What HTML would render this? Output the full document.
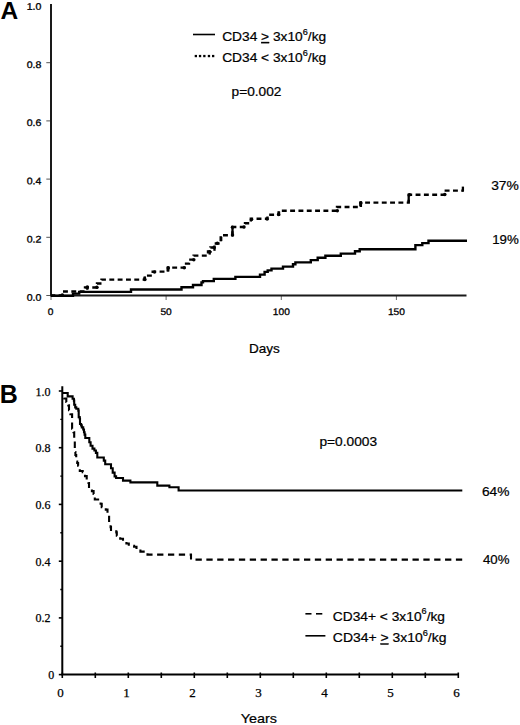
<!DOCTYPE html>
<html><head><meta charset="utf-8"><title>Figure</title>
<style>
html,body{margin:0;padding:0;background:#fff;width:520px;height:725px;overflow:hidden;font-family:"Liberation Sans",sans-serif;}
svg{display:block;}
</style></head><body>
<svg width="520" height="725" viewBox="0 0 520 725">
<rect width="520" height="725" fill="#fff"/>
<text x="0.5" y="19" font-family="Liberation Sans" font-weight="bold" font-size="24.5">A</text>
<text transform="translate(41.3,9.7) rotate(0.04) scale(1.1,1)" x="0" y="0" text-anchor="end" font-family="Liberation Sans" font-size="9.6" stroke="#000" stroke-width="0.3">1.0</text>
<line x1="46.3" x2="50" y1="62.7" y2="62.7" stroke="#555" stroke-width="1"/>
<text transform="translate(41.3,67.9) rotate(0.04) scale(1.1,1)" x="0" y="0" text-anchor="end" font-family="Liberation Sans" font-size="9.6" stroke="#000" stroke-width="0.3">0.8</text>
<line x1="46.3" x2="50" y1="120.9" y2="120.9" stroke="#555" stroke-width="1"/>
<text transform="translate(41.3,126.1) rotate(0.04) scale(1.1,1)" x="0" y="0" text-anchor="end" font-family="Liberation Sans" font-size="9.6" stroke="#000" stroke-width="0.3">0.6</text>
<line x1="46.3" x2="50" y1="179.1" y2="179.1" stroke="#555" stroke-width="1"/>
<text transform="translate(41.3,184.3) rotate(0.04) scale(1.1,1)" x="0" y="0" text-anchor="end" font-family="Liberation Sans" font-size="9.6" stroke="#000" stroke-width="0.3">0.4</text>
<line x1="46.3" x2="50" y1="237.3" y2="237.3" stroke="#555" stroke-width="1"/>
<text transform="translate(41.3,242.5) rotate(0.04) scale(1.1,1)" x="0" y="0" text-anchor="end" font-family="Liberation Sans" font-size="9.6" stroke="#000" stroke-width="0.3">0.2</text>
<line x1="46.3" x2="50" y1="295.5" y2="295.5" stroke="#555" stroke-width="1"/>
<text transform="translate(41.3,300.7) rotate(0.04) scale(1.1,1)" x="0" y="0" text-anchor="end" font-family="Liberation Sans" font-size="9.6" stroke="#000" stroke-width="0.3">0.0</text>
<line x1="51.0" x2="51.0" y1="296" y2="300" stroke="#666" stroke-width="1"/>
<text transform="translate(50.6,314.9) rotate(0.04) scale(1.06,1)" x="0" y="0" text-anchor="middle" font-family="Liberation Sans" font-size="9.6" stroke="#000" stroke-width="0.3">0</text>
<line x1="166.1" x2="166.1" y1="296" y2="300" stroke="#666" stroke-width="1"/>
<text transform="translate(166.1,314.9) rotate(0.04) scale(1.06,1)" x="0" y="0" text-anchor="middle" font-family="Liberation Sans" font-size="9.6" stroke="#000" stroke-width="0.3">50</text>
<line x1="281.3" x2="281.3" y1="296" y2="300" stroke="#666" stroke-width="1"/>
<text transform="translate(281.3,314.9) rotate(0.04) scale(1.06,1)" x="0" y="0" text-anchor="middle" font-family="Liberation Sans" font-size="9.6" stroke="#000" stroke-width="0.3">100</text>
<line x1="396.4" x2="396.4" y1="296" y2="300" stroke="#666" stroke-width="1"/>
<text transform="translate(396.4,314.9) rotate(0.04) scale(1.06,1)" x="0" y="0" text-anchor="middle" font-family="Liberation Sans" font-size="9.6" stroke="#000" stroke-width="0.3">150</text>
<path d="M51,4 V295.5 H466.5" fill="none" stroke="#1a1a1a" stroke-width="2"/>
<path transform="translate(0,0.4)" d="M51,295.5 H73 V293.2 H79.2 V291.5 H131 V289.1 H181.5 V286.8 H193 V284.6 H201.5 V282 H203 V280.7 H213.8 V278.5 H235.4 V276.5 H260 V274.2 H264.6 V271.5 H267.7 V270 H271.5 V268.2 H283 V266.2 H293 V263.8 H295.4 V262 H310.8 V259.7 H317.7 V257.4 H325.4 V255.3 H340.8 V253.2 H355 V250.8 H359.7 V248.8 H415.4 V244.7 H422.3 V242.7 H428.5 V240.4 H467" fill="none" stroke="#000" stroke-width="2.4"/>
<path d="M51,295.5 H62 V291.5 H85 V287.5 H97 V283.5 H101.5 V279.6 H144.6 V275.6 H152.7 V271.6 H167.7 V267.6 H184.4 V263.6 H189 V259.6 H193.6 V255.6 H208 V251.5 H210.4 V247.5 H214.4 V243.5 H220.7 V235.2 H232.4 V227 H245 V223.2 H250.8 V218.8 H267.5 V214.8 H279 V210.8 H337 V207 H360.4 V202.6 H408.7 V194.8 H445.8 V190.6 H463.5" fill="none" stroke="#000" stroke-width="2.4" stroke-dasharray="4.9 3.42" stroke-dashoffset="0.64"/>
<circle cx="62.3" cy="295.1" r="1.75" fill="#000"/>
<circle cx="87.3" cy="287.0" r="1.75" fill="#000"/>
<circle cx="96.9" cy="287.2" r="1.75" fill="#000"/>
<circle cx="144.9" cy="279.6" r="1.75" fill="#000"/>
<circle cx="154.5" cy="272.0" r="1.75" fill="#000"/>
<circle cx="168.3" cy="268.0" r="1.75" fill="#000"/>
<circle cx="184.2" cy="267.8" r="1.75" fill="#000"/>
<circle cx="193.8" cy="259.8" r="1.75" fill="#000"/>
<circle cx="209.7" cy="251.7" r="1.75" fill="#000"/>
<circle cx="214.0" cy="247.4" r="1.75" fill="#000"/>
<circle cx="217.3" cy="243.2" r="1.75" fill="#000"/>
<circle cx="232.5" cy="235.0" r="1.75" fill="#000"/>
<circle cx="232.5" cy="227.2" r="1.75" fill="#000"/>
<circle cx="244.0" cy="227.0" r="1.75" fill="#000"/>
<circle cx="251.5" cy="219.4" r="1.75" fill="#000"/>
<circle cx="267.1" cy="218.9" r="1.75" fill="#000"/>
<circle cx="278.6" cy="214.6" r="1.75" fill="#000"/>
<circle cx="337.3" cy="210.8" r="1.75" fill="#000"/>
<circle cx="360.9" cy="203.0" r="1.75" fill="#000"/>
<circle cx="409.5" cy="194.8" r="1.75" fill="#000"/>
<circle cx="444.8" cy="194.6" r="1.75" fill="#000"/>
<line x1="87.3" x2="87.3" y1="286.9" y2="289.8" stroke="#000" stroke-width="2.3"/>
<line x1="144.9" x2="144.9" y1="276.5" y2="279.5" stroke="#000" stroke-width="2.3"/>
<line x1="168.3" x2="168.3" y1="266.3" y2="271.5" stroke="#000" stroke-width="2.3"/>
<line x1="209.7" x2="209.7" y1="250.8" y2="254.6" stroke="#000" stroke-width="2.3"/>
<line x1="214.5" x2="214.5" y1="245.5" y2="250.8" stroke="#000" stroke-width="2.3"/>
<line x1="221.2" x2="221.2" y1="236.8" y2="241.1" stroke="#000" stroke-width="2.3"/>
<line x1="232.5" x2="232.5" y1="227.0" y2="235.0" stroke="#000" stroke-width="2.3"/>
<line x1="278.6" x2="278.6" y1="211.3" y2="214.8" stroke="#000" stroke-width="2.3"/>
<line x1="360.9" x2="360.9" y1="201.3" y2="207.0" stroke="#000" stroke-width="2.3"/>
<line x1="408.7" x2="408.7" y1="194.5" y2="202.6" stroke="#000" stroke-width="2.3"/>
<line x1="462.9" x2="462.9" y1="186.6" y2="191.6" stroke="#000" stroke-width="2.3"/>
<line x1="193" x2="215" y1="34.5" y2="34.5" stroke="#000" stroke-width="1.6"/>
<rect x="194.7" y="54.9" width="2.3" height="2.3" fill="#000"/>
<rect x="198.9" y="54.9" width="2.3" height="2.3" fill="#000"/>
<rect x="203.2" y="54.9" width="2.3" height="2.3" fill="#000"/>
<rect x="207.8" y="54.9" width="2.3" height="2.3" fill="#000"/>
<rect x="212.0" y="54.9" width="2.3" height="2.3" fill="#000"/>
<text x="-0.2" y="403.1" font-family="Liberation Sans" font-weight="bold" font-size="25">B</text>
<line x1="58.8" x2="62" y1="391.0" y2="391.0" stroke="#000" stroke-width="1.6"/>
<text x="50.6" y="395.5" text-anchor="end" font-family="Liberation Serif" font-size="12" stroke="#000" stroke-width="0.25">1.0</text>
<line x1="58.8" x2="62" y1="447.7" y2="447.7" stroke="#000" stroke-width="1.6"/>
<text x="50.6" y="452.2" text-anchor="end" font-family="Liberation Serif" font-size="12" stroke="#000" stroke-width="0.25">0.8</text>
<line x1="58.8" x2="62" y1="504.4" y2="504.4" stroke="#000" stroke-width="1.6"/>
<text x="50.6" y="508.9" text-anchor="end" font-family="Liberation Serif" font-size="12" stroke="#000" stroke-width="0.25">0.6</text>
<line x1="58.8" x2="62" y1="561.2" y2="561.2" stroke="#000" stroke-width="1.6"/>
<text x="50.6" y="565.7" text-anchor="end" font-family="Liberation Serif" font-size="12" stroke="#000" stroke-width="0.25">0.4</text>
<line x1="58.8" x2="62" y1="617.9" y2="617.9" stroke="#000" stroke-width="1.6"/>
<text x="50.6" y="622.4" text-anchor="end" font-family="Liberation Serif" font-size="12" stroke="#000" stroke-width="0.25">0.2</text>
<line x1="58.8" x2="62" y1="674.6" y2="674.6" stroke="#000" stroke-width="1.6"/>
<text x="54.2" y="679.1" text-anchor="end" font-family="Liberation Serif" font-size="12" stroke="#000" stroke-width="0.25">0</text>
<line x1="60.3" x2="62" y1="419.4" y2="419.4" stroke="#000" stroke-width="1.4"/>
<line x1="60.3" x2="62" y1="476.1" y2="476.1" stroke="#000" stroke-width="1.4"/>
<line x1="60.3" x2="62" y1="532.8" y2="532.8" stroke="#000" stroke-width="1.4"/>
<line x1="60.3" x2="62" y1="589.5" y2="589.5" stroke="#000" stroke-width="1.4"/>
<line x1="60.3" x2="62" y1="646.2" y2="646.2" stroke="#000" stroke-width="1.4"/>
<line x1="62.3" x2="62.3" y1="672.5" y2="678" stroke="#000" stroke-width="1.6"/>
<line x1="95.3" x2="95.3" y1="672.5" y2="678" stroke="#000" stroke-width="1.6"/>
<line x1="128.3" x2="128.3" y1="672.5" y2="678" stroke="#000" stroke-width="1.6"/>
<line x1="161.3" x2="161.3" y1="672.5" y2="678" stroke="#000" stroke-width="1.6"/>
<line x1="194.3" x2="194.3" y1="672.5" y2="678" stroke="#000" stroke-width="1.6"/>
<line x1="227.3" x2="227.3" y1="672.5" y2="678" stroke="#000" stroke-width="1.6"/>
<line x1="260.3" x2="260.3" y1="672.5" y2="678" stroke="#000" stroke-width="1.6"/>
<line x1="293.3" x2="293.3" y1="672.5" y2="678" stroke="#000" stroke-width="1.6"/>
<line x1="326.3" x2="326.3" y1="672.5" y2="678" stroke="#000" stroke-width="1.6"/>
<line x1="359.3" x2="359.3" y1="672.5" y2="678" stroke="#000" stroke-width="1.6"/>
<line x1="392.3" x2="392.3" y1="672.5" y2="678" stroke="#000" stroke-width="1.6"/>
<line x1="425.3" x2="425.3" y1="672.5" y2="678" stroke="#000" stroke-width="1.6"/>
<line x1="458.3" x2="458.3" y1="672.5" y2="678" stroke="#000" stroke-width="1.6"/>
<text x="60.4" y="697.3" text-anchor="middle" font-family="Liberation Serif" font-size="13" stroke="#000" stroke-width="0.25">0</text>
<text x="126.4" y="697.3" text-anchor="middle" font-family="Liberation Serif" font-size="13" stroke="#000" stroke-width="0.25">1</text>
<text x="192.4" y="697.3" text-anchor="middle" font-family="Liberation Serif" font-size="13" stroke="#000" stroke-width="0.25">2</text>
<text x="258.4" y="697.3" text-anchor="middle" font-family="Liberation Serif" font-size="13" stroke="#000" stroke-width="0.25">3</text>
<text x="324.4" y="697.3" text-anchor="middle" font-family="Liberation Serif" font-size="13" stroke="#000" stroke-width="0.25">4</text>
<text x="390.4" y="697.3" text-anchor="middle" font-family="Liberation Serif" font-size="13" stroke="#000" stroke-width="0.25">5</text>
<text x="456.4" y="697.3" text-anchor="middle" font-family="Liberation Serif" font-size="13" stroke="#000" stroke-width="0.25">6</text>
<path d="M62.3,386.3 V674.6 H458.5" fill="none" stroke="#000" stroke-width="2"/>
<path d="M62.3,393.0 H67.7 V396.4 H72.6 V398.8 H73.9 V400.6 H74.2 V404.7 H75.2 V407.4 H76.3 V408.8 H78.3 V410.6 H78.7 V417.1 H79.7 V418.5 H80.0 V424.0 H81.1 V425.4 H81.8 V427.4 H83.2 V429.5 H84.0 V432.3 H84.6 V434.6 H85.3 V438.0 H89.3 V442.3 H90.6 V445.7 H92.5 V448.6 H94.4 V450.5 H95.9 V452.9 H97.3 V457.5 H103.8 V460.6 H105.2 V464.3 H111.0 V468.3 H112.7 V472.6 H114.6 V476.4 H116.1 V478.0 H123.0 V480.6 H130.4 V482.4 H157.3 V485.6 H169.4 V487.3 H178.6 V490.5 H462.3 V490.5" fill="none" stroke="#000" stroke-width="2.1"/>
<path d="M62.3,393.0 H63.5 V395.0 H64.3 V398.5 H66.3 V402.0 H68.3 V405.4 H69.0 V410.2 H70.4 V414.3 H72.1 V417.8 H72.1 V428.8 H73.5 V432.3 H74.2 V438.8 H74.8 V444.2 H74.8 V452.0 H75.4 V455.0 H76.2 V461.6 H77.2 V463.0 H78.1 V465.8 H79.8 V471.0 H82.7 V472.1 H85.0 V476.1 H86.7 V479.6 H88.5 V483.0 H89.0 V488.3 H91.9 V491.1 H93.6 V494.0 H94.8 V499.5 H99.4 V499.8 H100.6 V503.8 H101.7 V507.3 H105.8 V509.6 H107.5 V513.0 H109.1 V522.8 H110.6 V527.1 H111.0 V531.4 H116.3 V532.4 H116.8 V535.8 H120.2 V538.7 H123.0 V541.5 H126.4 V543.5 H128.8 V545.9 H134.1 V546.8 H136.5 V549.2 H140.4 V551.6 H147.5 V554.6 H191.0 V554.6 H191.0 V559.6 H463.0 V559.6" fill="none" stroke="#000" stroke-width="2.1" stroke-dasharray="6.3 4.55" stroke-dashoffset="4"/>
<line x1="305.4" x2="311.5" y1="613.8" y2="613.8" stroke="#000" stroke-width="1.6"/>
<line x1="316" x2="322.3" y1="613.8" y2="613.8" stroke="#000" stroke-width="1.6"/>
<line x1="305.4" x2="325.4" y1="635.8" y2="635.8" stroke="#000" stroke-width="1.6"/>
<text transform="translate(222.14,41.00) scale(1.0577,1)" x="0" y="0" font-family="Liberation Sans" font-size="13" stroke="#000" stroke-width="0.22">CD34 <tspan text-decoration="underline">&gt;</tspan> 3x10<tspan dy="-6.5" font-size="8.6">6</tspan><tspan dy="6.5">/kg</tspan></text>
<text transform="translate(222.14,62.30) scale(1.0577,1)" x="0" y="0" font-family="Liberation Sans" font-size="13" stroke="#000" stroke-width="0.22">CD34 &lt; 3x10<tspan dy="-6.5" font-size="8.6">6</tspan><tspan dy="6.5">/kg</tspan></text>
<text transform="translate(231.55,95.50) scale(1.0543,1)" x="0" y="0" font-family="Liberation Sans" font-size="13" stroke="#000" stroke-width="0.22">p=0.002</text>
<text transform="translate(491.14,189.90) scale(1.0640,1)" x="0" y="0" font-family="Liberation Sans" font-size="13" stroke="#000" stroke-width="0.22">37%</text>
<text transform="translate(492.18,244.20) scale(1.0240,1)" x="0" y="0" font-family="Liberation Sans" font-size="13" stroke="#000" stroke-width="0.22">19%</text>
<text transform="translate(248.96,352.50) scale(1.0429,1)" x="0" y="0" font-family="Liberation Sans" font-size="13" stroke="#000" stroke-width="0.22">Days</text>
<text transform="translate(319.44,445.50) scale(1.0566,1)" x="0" y="0" font-family="Liberation Sans" font-size="13" stroke="#000" stroke-width="0.22">p=0.0003</text>
<text transform="translate(481.94,495.50) scale(1.0600,1)" x="0" y="0" font-family="Liberation Sans" font-size="13" stroke="#000" stroke-width="0.22">64%</text>
<text transform="translate(483.00,563.50) scale(1.0192,1)" x="0" y="0" font-family="Liberation Sans" font-size="13" stroke="#000" stroke-width="0.22">40%</text>
<text transform="translate(332.84,620.70) scale(1.0596,1)" x="0" y="0" font-family="Liberation Sans" font-size="13" stroke="#000" stroke-width="0.22">CD34+ &lt; 3x10<tspan dy="-6.5" font-size="8.6">6</tspan><tspan dy="6.5">/kg</tspan></text>
<text transform="translate(332.83,642.40) scale(1.0731,1)" x="0" y="0" font-family="Liberation Sans" font-size="13" stroke="#000" stroke-width="0.22">CD34+ <tspan text-decoration="underline">&gt;</tspan> 3x10<tspan dy="-6.5" font-size="8.6">6</tspan><tspan dy="6.5">/kg</tspan></text>
<text transform="translate(240.69,723.30) scale(1.1065,1)" x="0" y="0" font-family="Liberation Sans" font-size="13" stroke="#000" stroke-width="0.22">Years</text>
</svg>
</body></html>
